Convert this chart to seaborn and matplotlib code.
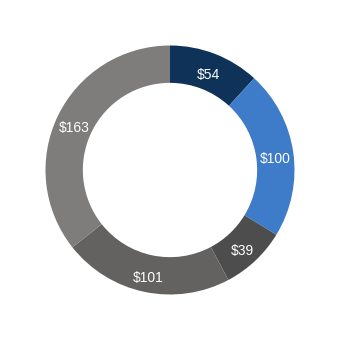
import matplotlib
matplotlib.use("Agg")
import matplotlib.pyplot as plt
import matplotlib.transforms as mtransforms
import seaborn as sns

labels = ["A", "B", "C", "D", "E"]
values = [54, 100, 39, 101, 163]
colors = ["#0f3358", "#3e7bc8", "#4d4d4d", "#646260", "#7f7d7c"]

sns.set_theme(style="white")
plt.rcParams["font.family"] = ["Liberation Sans", "DejaVu Sans"]

fig = plt.figure(figsize=(3.4, 3.4), dpi=100)
ax = fig.add_axes([0, 0, 1, 1])
wedges, texts = ax.pie(
    values,
    colors=colors,
    startangle=90,
    counterclock=False,
    radius=1.0,
    labels=[f"${v}" for v in values],
    labeldistance=0.85,
    wedgeprops=dict(width=0.30, edgecolor="none"),
    textprops=dict(color="white", fontsize=10, ha="center", va="center"),
)
offset = mtransforms.ScaledTranslation(0, -4 / 100, fig.dpi_scale_trans)
for t in texts:
    t.set_ha("center")
    t.set_va("center")
    t.set_transform(t.get_transform() + offset)
ax.set_aspect("equal")
lim = 170 / 124.5
ax.set_xlim(-lim, lim)
ax.set_ylim(-lim, lim)
ax.axis("off")
fig.savefig("out.png", dpi=100, facecolor="white")
